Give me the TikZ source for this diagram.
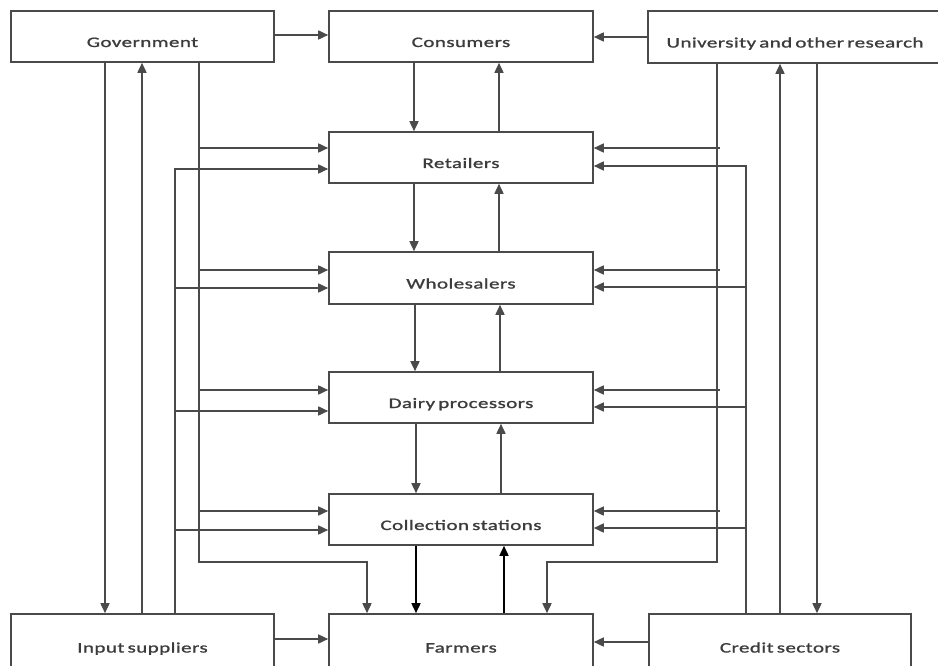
\documentclass[tikz,border=0pt]{standalone}
\usepackage{fontspec}
\setmainfont{Carlito}[FakeStretch=1.45,LetterSpace=3,WordSpace=0.6,FakeBold=1.2]
\usetikzlibrary{arrows.meta,calc}
\definecolor{ln}{HTML}{4A4A4A}
\definecolor{tx}{HTML}{3C3C3C}
\tikzset{
  box/.style={draw=ln,line width=1.6pt,fill=white,text=tx,minimum width=264pt,minimum height=51pt,
    text height=21pt,text depth=0pt,inner sep=0pt,font=\fontsize{14.5}{17}\selectfont},
  conn/.style={draw=ln,line width=1.6pt,-{Triangle[length=10pt,width=9pt]}},
  plain/.style={draw=ln,line width=1.6pt}
}
\newcommand\brL[3]{\draw[conn] ($(#1 |- #2.west)+(0,#3)$) -- ($(#2.west)+(0,#3)$);}
\newcommand\brR[3]{\draw[conn] ($(#1 |- #2.east)+(3,#3)$) -- ($(#2.east)+(0,#3)$);}
\newcommand\brRc[3]{\draw[conn] ($(#1 |- #2.east)+(0,#3)$) -- ($(#2.east)+(0,#3)$);}
\begin{document}
\begin{tikzpicture}[x=1pt,y=-1pt]
\useasboundingbox (0,0) rectangle (938,666);
% boxes
\node[box,minimum width=263pt] (gov) at (142.5,36.5) {Government};
\node[box] (cons) at (461,36.5) {Consumers};
\node[box,minimum width=294pt,minimum height=52pt] (univ) at (795,37) {University and other research};
\node[box] (ret) at (461,157.5) {Retailers};
\node[box,minimum height=52pt] (whole) at (461,278) {Wholesalers};
\node[box] (dairy) at (461,397.5) {Dairy processors};
\node[box] (coll) at (461,519.5) {Collection stations};
\node[box,minimum height=56pt] (farm) at (461,642) {Farmers};
\node[box,minimum width=263pt,minimum height=56pt] (input) at (142.5,642) {Input suppliers};
\node[box,minimum width=262pt,minimum height=56pt] (credit) at (780,642) {Credit sectors};
% bus coordinates
\coordinate (xA) at (105,0);
\coordinate (xB) at (142,0);
\coordinate (xC) at (175,0);
\coordinate (xD) at (199,0);
\coordinate (gcorner) at (367,562);
\coordinate (ucorner) at (547,562);
\coordinate (xG) at (717,0);
\coordinate (xH) at (746,0);
\coordinate (xI) at (780,0);
\coordinate (xJ) at (817,0);
% top row
\draw[conn] ($(gov.east)+(0,-1.5)$) -- ($(cons.west)+(0,-1.5)$);
\draw[conn] (univ.west) -- (univ.west -| cons.east);
% central chain
\draw[conn] ([xshift=-47pt]cons.south) -- ([xshift=-47pt]ret.north);
\draw[conn] ([xshift=38pt]ret.north) -- ([xshift=38pt]cons.south);
\draw[conn] ([xshift=-47pt]ret.south) -- ([xshift=-47pt]whole.north);
\draw[conn] ([xshift=38pt]whole.north) -- ([xshift=38pt]ret.south);
\draw[conn] ([xshift=-46pt]whole.south) -- ([xshift=-46pt]dairy.north);
\draw[conn] ([xshift=39pt]dairy.north) -- ([xshift=39pt]whole.south);
\draw[conn] ([xshift=-45pt]dairy.south) -- ([xshift=-45pt]coll.north);
\draw[conn] ([xshift=40pt]coll.north) -- ([xshift=40pt]dairy.south);
\draw[conn,draw=black] ([xshift=-45pt]coll.south) -- ([xshift=-45pt]farm.north);
\draw[conn,draw=black] ([xshift=43pt]farm.north) -- ([xshift=43pt]coll.south);
% left side
\draw[conn] (gov.south -| xA) -- (input.north -| xA);
\draw[conn] (input.north -| xB) -- (gov.south -| xB);
\draw[conn] (input.north -| xC) |- ($(ret.west)+(0,11.5)$);
\draw[conn] (gov.south -| xD) |- (gcorner) -- (farm.north -| gcorner);
\brL{xD}{ret}{-9.5}
\brL{xD}{whole}{-8}
\brL{xD}{dairy}{-7.5}
\brL{xD}{coll}{-8.5}
\brL{xC}{whole}{10}
\brL{xC}{dairy}{13.5}
\brL{xC}{coll}{10.5}
% right side
\draw[conn] (univ.south -| xG) |- (ucorner) -- (farm.north -| ucorner);
\draw[conn] (credit.north -| xH) |- ($(ret.east)+(0,8.5)$);
\brR{xG}{ret}{-9.5}
\brR{xG}{whole}{-8}
\brR{xG}{dairy}{-7.5}
\brR{xG}{coll}{-8.5}
\brRc{xH}{whole}{9}
\brRc{xH}{dairy}{9.5}
\brRc{xH}{coll}{8.5}
\draw[conn] (credit.north -| xI) -- (univ.south -| xI);
\draw[conn] (univ.south -| xJ) -- (credit.north -| xJ);
% bottom row
\draw[conn] ($(input.east)+(0,-3)$) -- ($(farm.west)+(0,-3)$);
\draw[conn] (credit.west) -- (farm.east);
\end{tikzpicture}
\end{document}
